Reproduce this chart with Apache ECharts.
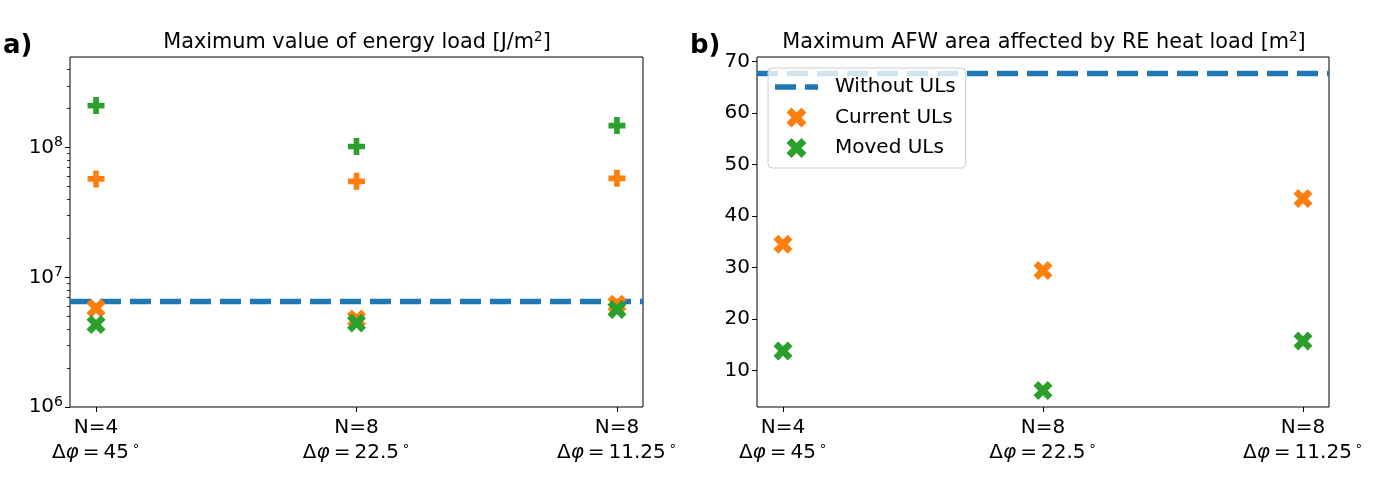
<!DOCTYPE html>
<html>
<head>
<meta charset="utf-8">
<script src="https://cdn.jsdelivr.net/npm/echarts@6/dist/echarts.min.js"></script>
<style>
html,body{margin:0;padding:0;background:#fff;}
#c{width:1400px;height:479px;}
</style>
</head>
<body>
<div id="c"></div>
<script>
// ---- data ----
const categories = [['N=4','45'],['N=8','22.5'],['N=8','11.25']];
// panel a) maximum energy load [J/m^2]
const energyWithout = 6.56e6;
const energyCurrentX = [5.77e6, 4.77e6, 6.2e6];
const energyMovedX = [4.33e6, 4.44e6, 5.65e6];
const energyCurrentP = [5.74e7, 5.5e7, 5.8e7];
const energyMovedP = [2.11e8, 1.02e8, 1.48e8];
const energyMajorTicks = [1e6, 1e7, 1e8];
const energyMinorTicks = [2e6,3e6,4e6,5e6,6e6,7e6,8e6,9e6,2e7,3e7,4e7,5e7,6e7,7e7,8e7,9e7,2e8,3e8,4e8];
// panel b) maximum AFW area [m^2]
const areaWithout = 67.8;
const areaCurrent = [34.5, 29.4, 43.4];
const areaMoved = [13.8, 6.1, 15.7];
const areaTicks = [10, 20, 30, 40, 50, 60, 70];
const xTicks = [0, 1, 2];

const BLUE = '#1f77b4', ORANGE = '#ff7f0e', GREEN = '#2ca02c';
const PLUS = 'path://M-1,-3L1,-3L1,-1L3,-1L3,1L1,1L1,3L-1,3L-1,1L-3,1L-3,-1L-1,-1Z';
const XMARK = 'path://M2,-4L4,-2L2,0L4,2L2,4L0,2L-2,4L-4,2L-2,0L-4,-2L-2,-4L0,-2Z';
const DASHICON = 'path://M0,0L21,0L21,5.3L0,5.3Z M30,0L43,0L43,5.3L30,5.3Z';
const FONT = 'DejaVu Sans';
const TS = '\u2009';

const pts = arr => arr.map((v, i) => [i, v]);

const xLabelRich = {
  n: {fontFamily: FONT, fontSize: 20, color: '#000', lineHeight: 25},
  d: {fontFamily: FONT, fontSize: 20, color: '#000', lineHeight: 25},
  p: {fontFamily: FONT, fontSize: 20, fontStyle: 'italic', color: '#000', lineHeight: 25},
  s: {fontFamily: FONT, fontSize: 13, color: '#000', verticalAlign: 'top', lineHeight: 25, padding: [0, 0, 0, 3]}
};
function xFmt(v) {
  const c = categories[Math.round(v)];
  if (!c) return '';
  return '{n|' + c[0] + '}\n{d|Δ}{p|φ}{d|' + TS + '=' + TS + c[1] + '}{s|∘}';
}
function makeX(gi) {
  return {
    type: 'value', gridIndex: gi, min: -0.1, max: 2.1,
    splitLine: {show: false},
    axisLine: {show: false, onZero: false},
    axisTick: {show: true, length: 5, lineStyle: {color: '#000', width: 1}, customValues: xTicks},
    axisLabel: {customValues: xTicks, formatter: xFmt, rich: xLabelRich, margin: 8, color: '#000'}
  };
}
const titleRich = {s: {fontFamily: FONT, fontSize: 13.5, color: '#000', verticalAlign: 'top', lineHeight: 25}};

const option = {
  animation: false,
  backgroundColor: '#fff',
  title: [
    {text: 'Maximum value of energy load [J/m{s|2}]', left: 352, top: 25, textAlign: 'center',
     textStyle: {fontFamily: FONT, fontSize: 20.8, fontWeight: 'normal', color: '#000', rich: titleRich}},
    {text: 'Maximum AFW area affected by RE heat load [m{s|2}]', left: 1039, top: 25, textAlign: 'center',
     textStyle: {fontFamily: FONT, fontSize: 20.8, fontWeight: 'normal', color: '#000', rich: titleRich}},
    {text: 'a)', left: -2, top: 28, textStyle: {fontFamily: FONT, fontSize: 26, fontWeight: 'bold', color: '#000'}},
    {text: 'b)', left: 685, top: 28, textStyle: {fontFamily: FONT, fontSize: 26, fontWeight: 'bold', color: '#000'}}
  ],
  legend: {
    orient: 'vertical', left: 768, top: 68, z: 20, zlevel: 0,
    data: [
      {name: 'Without ULs', icon: DASHICON},
      {name: 'Current ULs', icon: XMARK},
      {name: 'Moved ULs', icon: XMARK}
    ],
    itemWidth: 43, itemHeight: 20, itemGap: 10.5,
    padding: [9, 10, 10, 7],
    backgroundColor: 'rgba(255,255,255,0.8)',
    borderColor: '#cccccc', borderWidth: 1, borderRadius: 4,
    textStyle: {fontFamily: FONT, fontSize: 20, color: '#000', padding: [0, 0, 0, 12]},
    selectedMode: false
  },
  grid: [
    {left: 70, right: 757, top: 57, bottom: 72, show: true, borderColor: '#000', borderWidth: 1, backgroundColor: 'transparent'},
    {left: 757, right: 71, top: 57, bottom: 72, show: true, borderColor: '#000', borderWidth: 1, backgroundColor: 'transparent'}
  ],
  xAxis: [makeX(0), makeX(1)],
  yAxis: [
    {type: 'log', gridIndex: 0, position: 'left', min: 1e6, max: 5e8, logBase: 10,
     splitLine: {show: false}, axisLine: {show: false, onZero: false},
     axisTick: {show: true, length: 5, lineStyle: {color: '#000', width: 1}, customValues: energyMajorTicks},
     axisLabel: {customValues: energyMajorTicks, margin: 7,
       formatter: v => '{b|10}{s|' + Math.round(Math.log10(v)) + '}',
       rich: {b: {fontFamily: FONT, fontSize: 20, color: '#000', lineHeight: 24},
              s: {fontFamily: FONT, fontSize: 14, color: '#000', verticalAlign: 'top', lineHeight: 24}}}},
    {type: 'log', gridIndex: 0, position: 'left', min: 1e6, max: 5e8, logBase: 10,
     splitLine: {show: false}, axisLine: {show: false, onZero: false},
     axisTick: {show: true, length: 3, lineStyle: {color: '#000', width: 0.8}, customValues: energyMinorTicks},
     axisLabel: {show: false}},
    {type: 'value', gridIndex: 1, position: 'left', min: 2.9, max: 70.9,
     splitLine: {show: false}, axisLine: {show: false, onZero: false},
     axisTick: {show: true, length: 5, lineStyle: {color: '#000', width: 1}, customValues: areaTicks},
     axisLabel: {customValues: areaTicks, margin: 7, fontFamily: FONT, fontSize: 20, color: '#000'}}
  ],
  series: [
    // panel b)
    {name: 'Without ULs', type: 'line', xAxisIndex: 1, yAxisIndex: 2, data: [], symbol: 'none', z: 2,
     lineStyle: {color: BLUE, width: 5.3, type: [21, 9]}, itemStyle: {color: BLUE},
     markLine: {silent: true, symbol: 'none', label: {show: false}, z: 2,
       lineStyle: {color: BLUE, width: 5.3, type: [21, 9]},
       data: [{yAxis: areaWithout}]}},
    {name: 'Current ULs', type: 'scatter', xAxisIndex: 1, yAxisIndex: 2, data: pts(areaCurrent),
     symbol: XMARK, symbolSize: 19, itemStyle: {color: ORANGE, opacity: 1}},
    {name: 'Moved ULs', type: 'scatter', xAxisIndex: 1, yAxisIndex: 2, data: pts(areaMoved),
     symbol: XMARK, symbolSize: 19, itemStyle: {color: GREEN, opacity: 1}},
    // panel a)
    {name: 'Without ULs', type: 'line', xAxisIndex: 0, yAxisIndex: 0, data: [], symbol: 'none', z: 2,
     lineStyle: {color: BLUE, width: 5.3, type: [21, 9]}, itemStyle: {color: BLUE},
     markLine: {silent: true, symbol: 'none', label: {show: false}, z: 2,
       lineStyle: {color: BLUE, width: 5.3, type: [21, 9]},
       data: [{yAxis: energyWithout}]}},
    {name: 'Current ULs', type: 'scatter', xAxisIndex: 0, yAxisIndex: 0, data: pts(energyCurrentX),
     symbol: XMARK, symbolSize: 19, itemStyle: {color: ORANGE, opacity: 1}},
    {name: 'Moved ULs', type: 'scatter', xAxisIndex: 0, yAxisIndex: 0, data: pts(energyMovedX),
     symbol: XMARK, symbolSize: 19, itemStyle: {color: GREEN, opacity: 1}},
    {name: 'Current ULs (+)', type: 'scatter', xAxisIndex: 0, yAxisIndex: 0, data: pts(energyCurrentP),
     symbol: PLUS, symbolSize: 17, itemStyle: {color: ORANGE, opacity: 1}},
    {name: 'Moved ULs (+)', type: 'scatter', xAxisIndex: 0, yAxisIndex: 0, data: pts(energyMovedP),
     symbol: PLUS, symbolSize: 17, itemStyle: {color: GREEN, opacity: 1}}
  ]
};

const chart = echarts.init(document.getElementById('c'), null, {renderer: 'canvas'});
chart.setOption(option);
</script>
</body>
</html>
